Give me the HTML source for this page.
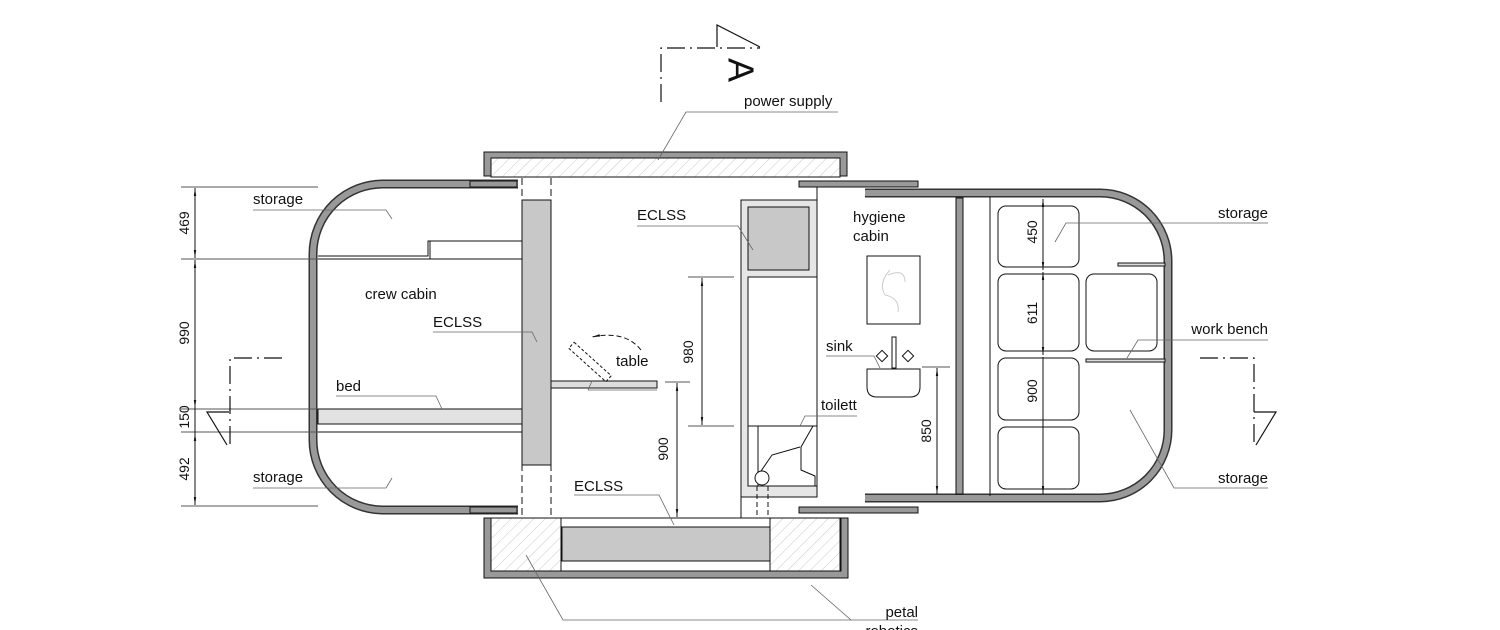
<!DOCTYPE html>
<html><head><meta charset="utf-8"><style>
html,body{margin:0;padding:0;background:#fff;}
svg{display:block;}
text{font-family:"Liberation Sans",sans-serif;fill:#111;}
</style></head><body>
<svg width="1500" height="630" viewBox="0 0 1500 630" xmlns="http://www.w3.org/2000/svg">
<defs>
<pattern id="h" width="8" height="8" patternUnits="userSpaceOnUse" patternTransform="rotate(45)">
<line x1="0" y1="0" x2="0" y2="8" stroke="#bbb" stroke-width="0.8"/>
</pattern>
<marker id="a" viewBox="0 0 10 10" refX="10" refY="5" markerWidth="8" markerHeight="8" orient="auto-start-reverse"><path d="M0,3.5 L10,5 L0,6.5 z" fill="#111"/></marker>
</defs>
<g stroke="#111" stroke-width="1" fill="none">
<path d="M518,184 H385 A70,70 0 0 0 313,254 V440 A70,70 0 0 0 383,510 H518" stroke="#333" stroke-width="9"/>
<path d="M518,184 H385 A70,70 0 0 0 313,254 V440 A70,70 0 0 0 383,510 H518" stroke="#999" stroke-width="6"/>
<line x1="181" y1="187" x2="318" y2="187" stroke="#555"/>
<line x1="181" y1="259" x2="318" y2="259" stroke="#555"/>
<line x1="181" y1="409" x2="318" y2="409" stroke="#555"/>
<line x1="181" y1="432" x2="318" y2="432" stroke="#555"/>
<line x1="181" y1="506" x2="318" y2="506" stroke="#555"/>
<line x1="195" y1="188" x2="195" y2="258" marker-start="url(#a)" marker-end="url(#a)"/>
<line x1="195" y1="260" x2="195" y2="408" marker-start="url(#a)" marker-end="url(#a)"/>
<line x1="195" y1="433" x2="195" y2="505" marker-start="url(#a)" marker-end="url(#a)"/>
<line x1="195" y1="396" x2="195" y2="444"/>
<path d="M318,259 H522 M318,256 H428 V241 H522 M430,241 V259"/>
<rect x="318" y="409" width="204" height="15" fill="#e2e2e2"/>
<line x1="318" y1="432" x2="522" y2="432"/>
<rect x="522" y="200" width="29" height="265" fill="#c8c8c8"/>
<line x1="522" y1="178" x2="522" y2="518" stroke-dasharray="7,4"/>
<line x1="551" y1="178" x2="551" y2="518" stroke-dasharray="7,4"/>
<rect x="470" y="181" width="47" height="6" fill="#999"/>
<rect x="470" y="507" width="47" height="6" fill="#999"/>
<rect x="799" y="181" width="119" height="6" fill="#999"/>
<rect x="799" y="507" width="119" height="6" fill="#999"/>
<rect x="484" y="152" width="363" height="24" fill="#999"/>
<rect x="491" y="158" width="349" height="19" fill="#fff"/>
<rect x="491" y="158" width="349" height="19" fill="url(#h)"/>
<rect x="484" y="518" width="364" height="60" fill="#999"/>
<rect x="491" y="518" width="350" height="53" fill="#fff"/>
<rect x="491" y="518" width="70" height="53" fill="url(#h)"/>
<rect x="770" y="518" width="70" height="53" fill="url(#h)"/>
<rect x="562" y="527" width="208" height="34" fill="#c8c8c8"/>
<line x1="561" y1="518" x2="561" y2="571"/><line x1="770" y1="518" x2="770" y2="571"/>
<rect x="551" y="381" width="106" height="7" fill="#ddd"/>
<rect x="565" y="358" width="50" height="8" transform="rotate(42 590 362)" stroke-dasharray="3,2"/>
<path d="M641,350 Q625,330 592,337" stroke-dasharray="5,3" marker-end="url(#a)"/>
<rect x="741" y="200" width="76" height="297" fill="#e6e6e6"/>
<rect x="748" y="207" width="61" height="63" fill="#c8c8c8"/>
<rect x="748" y="277" width="69" height="149" fill="#fff"/>
<rect x="748" y="426" width="69" height="60" fill="#fff"/>
<line x1="817" y1="187" x2="817" y2="497"/>
<path d="M758,426 V486 M813,426 L801,447 V470 L815,476 V486 M759,474 L772,455 L800,447"/>
<circle cx="762" cy="478" r="7" fill="#fff"/>
<line x1="757" y1="486" x2="757" y2="518" stroke-dasharray="5,3"/>
<line x1="768" y1="486" x2="768" y2="518" stroke-dasharray="5,3"/>
<line x1="741" y1="497" x2="741" y2="518"/>
<line x1="688" y1="277" x2="734" y2="277" stroke="#555"/>
<line x1="688" y1="426" x2="734" y2="426" stroke="#555"/>
<line x1="702" y1="278" x2="702" y2="425" marker-start="url(#a)" marker-end="url(#a)"/>
<line x1="665" y1="382" x2="690" y2="382" stroke="#555"/>
<line x1="677" y1="383" x2="677" y2="517" marker-start="url(#a)" marker-end="url(#a)"/>
<path d="M865,193 H1100 A68,68 0 0 1 1168,261 V430 A68,68 0 0 1 1100,498 H865" stroke="#333" stroke-width="9"/>
<path d="M865,193 H1100 A68,68 0 0 1 1168,261 V430 A68,68 0 0 1 1100,498 H865" stroke="#999" stroke-width="6"/>
<rect x="956" y="198" width="7" height="296" fill="#999"/>
<line x1="990" y1="197" x2="990" y2="496"/>
<rect x="998" y="206" width="81" height="61" rx="8"/>
<rect x="998" y="274" width="81" height="77" rx="8"/>
<rect x="998" y="358" width="81" height="62" rx="8"/>
<rect x="998" y="427" width="81" height="62" rx="8"/>
<rect x="1086" y="274" width="71" height="77" rx="8"/>
<rect x="1118" y="263" width="47" height="3" fill="#ddd"/>
<rect x="1086" y="359" width="79" height="3" fill="#ddd"/>
<line x1="1043" y1="199" x2="1043" y2="270" marker-start="url(#a)" marker-end="url(#a)"/>
<line x1="1043" y1="272" x2="1043" y2="355" marker-start="url(#a)" marker-end="url(#a)"/>
<line x1="1043" y1="357" x2="1043" y2="494" marker-end="url(#a)"/>
<rect x="867" y="256" width="53" height="68"/>
<path d="M890,270 Q878,283 885,295 Q900,298 898,312 M888,275 Q905,268 905,282" stroke="#ccc"/>
<path d="M867,369 H920 V387 Q920,397 910,397 H877 Q867,397 867,387 Z"/>
<rect x="892" y="337" width="4" height="31"/>
<rect x="878" y="352" width="8" height="8" transform="rotate(45 882 356)"/>
<rect x="904" y="352" width="8" height="8" transform="rotate(45 908 356)"/>
<line x1="922" y1="367" x2="950" y2="367" stroke="#555"/>
<line x1="937" y1="368" x2="937" y2="494" marker-start="url(#a)" marker-end="url(#a)"/>
<g stroke="#666" stroke-width="0.8">
<path d="M253,210 H386 L392,219"/>
<path d="M253,488 H386 L392,478"/>
<path d="M433,332 H532 L537,342"/>
<path d="M336,396 H436 L442,409"/>
<path d="M588,390 H657"/>
<path d="M588,390 L592,381"/>
<path d="M637,226 H738 L753,250"/>
<path d="M574,495 H659 L674,525"/>
<path d="M826,356 H874 L880,368"/>
<path d="M818,416 H857 M800,426 L805,416 H818"/>
<path d="M1268,223 H1066 L1055,242"/>
<path d="M1268,340 H1138 L1127,358"/>
<path d="M1268,488 H1174 L1130,410"/>
<path d="M918,620 H851 L811,585"/>
<path d="M851,620 H563 L526,555"/>
<path d="M838,112 H686 L658,160"/>
</g>
<g stroke="#111" stroke-width="1.2">
<path d="M282,358 H230 V445" stroke-dasharray="18,5,2,5"/>
<path d="M229,412 H207 L227,445"/>
<path d="M1200,358 H1254 V445" stroke-dasharray="18,5,2,5"/>
<path d="M1254,412 H1276 L1256,445"/>
<path d="M661,102 V48 H760" stroke-dasharray="18,5,2,5"/>
<path d="M717,47 V25 L760,47"/>
</g>
</g>
<g font-size="15">
<text x="253" y="204">storage</text>
<text x="253" y="482">storage</text>
<text x="365" y="299">crew cabin</text>
<text x="433" y="327">ECLSS</text>
<text x="336" y="391">bed</text>
<text x="616" y="366">table</text>
<text x="637" y="220">ECLSS</text>
<text x="574" y="491">ECLSS</text>
<text x="853" y="222">hygiene</text>
<text x="853" y="241">cabin</text>
<text x="826" y="351">sink</text>
<text x="821" y="410">toilett</text>
<text x="1268" y="218" text-anchor="end">storage</text>
<text x="1268" y="334" text-anchor="end">work bench</text>
<text x="1268" y="483" text-anchor="end">storage</text>
<text x="744" y="106">power supply</text>
<text x="918" y="617" text-anchor="end">petal</text>
<text x="918" y="636" text-anchor="end">robotics</text>
</g>
<g font-size="14">
<text transform="translate(189,223) rotate(-90)" text-anchor="middle">469</text>
<text transform="translate(189,333) rotate(-90)" text-anchor="middle">990</text>
<text transform="translate(189,417) rotate(-90)" text-anchor="middle">150</text>
<text transform="translate(189,469) rotate(-90)" text-anchor="middle">492</text>
<text transform="translate(693,352) rotate(-90)" text-anchor="middle">980</text>
<text transform="translate(668,449) rotate(-90)" text-anchor="middle">900</text>
<text transform="translate(1037,232) rotate(-90)" text-anchor="middle">450</text>
<text transform="translate(1037,313) rotate(-90)" text-anchor="middle">611</text>
<text transform="translate(1037,391) rotate(-90)" text-anchor="middle">900</text>
<text transform="translate(931,431) rotate(-90)" text-anchor="middle">850</text>
</g>
<text transform="translate(738,70) rotate(90)" font-size="36" text-anchor="middle" dominant-baseline="middle">A</text>
</svg>
</body></html>
